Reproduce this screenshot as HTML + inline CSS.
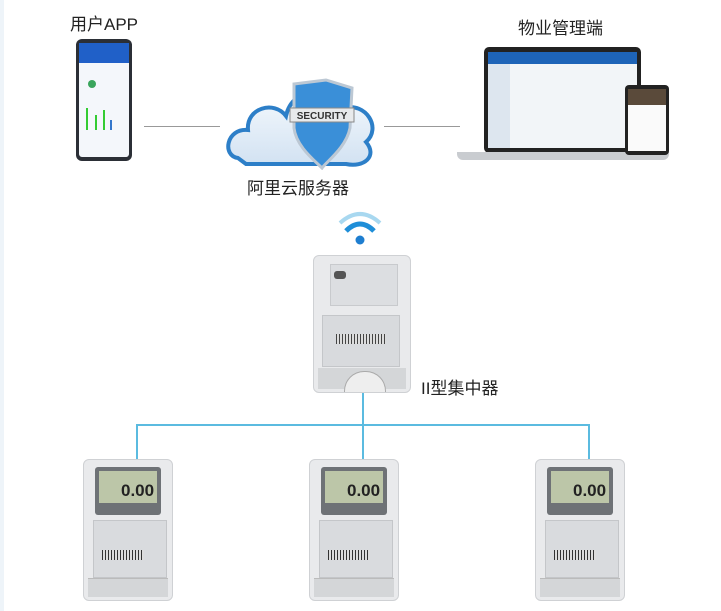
<!DOCTYPE html>
<html><head><meta charset="utf-8"><style>
body{margin:0;width:721px;height:611px;background:#fff;position:relative;overflow:hidden;font-family:"Liberation Sans","Noto Sans CJK SC",sans-serif;}
.t{position:absolute;font-size:17px;color:#222;white-space:nowrap;}
.a{position:absolute;}
.meter{position:absolute;width:90px;height:142px;background:#e9eaec;border:1px solid #cfd1d4;border-radius:6px;box-sizing:border-box;}
.lcd{position:absolute;left:11px;top:7px;width:66px;height:48px;background:#6e7276;border-radius:3px;}
.lcd i{position:absolute;left:4px;top:4px;right:4px;bottom:12px;background:#bcc6a8;}
.lcd b{position:absolute;left:26px;top:14px;font:bold 17px "Liberation Sans",sans-serif;color:#222;}
.plate{position:absolute;left:9px;top:60px;width:72px;height:56px;background:#d9dbde;border:1px solid #c4c6c9;}
.bar{position:absolute;left:18px;top:90px;width:42px;height:10px;background:repeating-linear-gradient(90deg,#333 0 1px,#ddd 1px 3px);}
.term{position:absolute;left:4px;right:4px;top:118px;bottom:3px;background:#d4d6d8;border-top:1px solid #bbb;}
.ln{position:absolute;background:#5bbbe0;}
</style></head><body>
<div class="a" style="left:0;top:0;width:4px;height:611px;background:#eef4f9"></div>

<div class="t" style="left:70px;top:10px">用户APP</div>
<div class="t" style="left:518px;top:14px">物业管理端</div>
<div class="t" style="left:247px;top:174px">阿里云服务器</div>
<div class="t" style="left:421px;top:374px">II型集中器</div>

<div class="a" style="left:76px;top:39px;width:56px;height:122px;background:#2b2f36;border-radius:6px"></div>
<div class="a" style="left:79px;top:43px;width:50px;height:114px;background:#f4f7fb;border-radius:3px"></div>
<div class="a" style="left:79px;top:43px;width:50px;height:20px;background:#2060c8"></div>
<div class="a" style="left:88px;top:80px;width:8px;height:8px;background:#3aa55c;border-radius:50%"></div>
<div class="a" style="left:86px;top:108px;width:2px;height:22px;background:#3c3"></div>
<div class="a" style="left:95px;top:115px;width:2px;height:15px;background:#3c3"></div>
<div class="a" style="left:103px;top:110px;width:2px;height:20px;background:#3c3"></div>
<div class="a" style="left:110px;top:120px;width:2px;height:10px;background:#37c"></div>

<div class="a" style="left:144px;top:126px;width:76px;height:1px;background:#999"></div>
<div class="a" style="left:384px;top:126px;width:76px;height:1px;background:#999"></div>

<svg class="a" style="left:226px;top:78px" width="152" height="92" viewBox="0 0 152 92">
<defs><linearGradient id="c" x1="0" y1="0" x2="0" y2="1"><stop offset="0" stop-color="#f5f9fd"/><stop offset="1" stop-color="#d2e2f2"/></linearGradient></defs>
<path d="M12 80 C-4 78 0 50 22 52 C20 30 48 22 60 38 C66 8 108 4 118 30 C140 24 156 50 140 64 C152 78 138 90 120 86 L20 86 Z" fill="url(#c)" stroke="#2d7fc8" stroke-width="4"/>
<path d="M68 6 L100 2 L126 10 L124 50 C120 70 100 84 96 90 C88 82 70 68 68 50 Z" fill="#3a8fd8" stroke="#bcc8d4" stroke-width="3"/>
<rect x="64" y="30" width="64" height="14" fill="#e8eaec" stroke="#888"/>
<text x="96" y="41" font-size="10" font-weight="bold" text-anchor="middle" fill="#333" font-family="Liberation Sans">SECURITY</text>
</svg>

<div class="a" style="left:484px;top:47px;width:157px;height:106px;background:#222;border-radius:5px"></div>
<div class="a" style="left:488px;top:52px;width:149px;height:96px;background:#f2f5f8"></div>
<div class="a" style="left:488px;top:52px;width:149px;height:12px;background:#1e64b8"></div>
<div class="a" style="left:488px;top:64px;width:22px;height:84px;background:#dde6ef"></div>
<div class="a" style="left:457px;top:152px;width:212px;height:8px;background:#c9ccd0;border-radius:0 0 6px 6px"></div>
<div class="a" style="left:625px;top:85px;width:44px;height:70px;background:#222;border-radius:4px"></div>
<div class="a" style="left:628px;top:89px;width:38px;height:62px;background:#fafafa"></div>
<div class="a" style="left:628px;top:89px;width:38px;height:16px;background:#5a4a3a"></div>

<svg class="a" style="left:335px;top:205px" width="50" height="45" viewBox="0 0 50 45">
<path d="M5 18 Q25 0 45 18" fill="none" stroke="#a8d8f0" stroke-width="4"/>
<path d="M11 26 Q25 12 39 26" fill="none" stroke="#1e8ed8" stroke-width="5"/>
<circle cx="25" cy="35" r="4.5" fill="#1e7ed0"/>
</svg>

<div class="meter" style="left:313px;top:255px;width:98px;height:138px">
<div class="a" style="left:16px;top:8px;width:66px;height:40px;background:#dcdee1;border:1px solid #c8cacd"></div>
<div class="a" style="left:20px;top:15px;width:12px;height:8px;background:#555;border-radius:3px"></div>
<div class="a" style="left:8px;top:59px;width:76px;height:50px;background:#d8dadd;border:1px solid #c4c6c9"></div>
<div class="a" style="left:22px;top:78px;width:50px;height:10px;background:repeating-linear-gradient(90deg,#444 0 1px,#ddd 1px 3px)"></div>
<div class="a" style="left:4px;right:4px;top:112px;bottom:3px;background:#d4d6d8"></div>
<div class="a" style="left:30px;top:115px;width:40px;height:20px;border:1px solid #aaa;border-bottom:none;border-radius:20px 20px 0 0;background:#eee"></div>
</div>

<div class="ln" style="left:362px;top:393px;width:2px;height:67px"></div>
<div class="ln" style="left:136px;top:424px;width:454px;height:2px"></div>
<div class="ln" style="left:136px;top:424px;width:2px;height:36px"></div>
<div class="ln" style="left:588px;top:424px;width:2px;height:36px"></div>

<div class="meter" style="left:83px;top:459px"><div class="lcd"><i></i><b>0.00</b></div><div class="plate"></div><div class="bar"></div><div class="term"></div></div>
<div class="meter" style="left:309px;top:459px"><div class="lcd"><i></i><b>0.00</b></div><div class="plate"></div><div class="bar"></div><div class="term"></div></div>
<div class="meter" style="left:535px;top:459px"><div class="lcd"><i></i><b>0.00</b></div><div class="plate"></div><div class="bar"></div><div class="term"></div></div>
</body></html>
